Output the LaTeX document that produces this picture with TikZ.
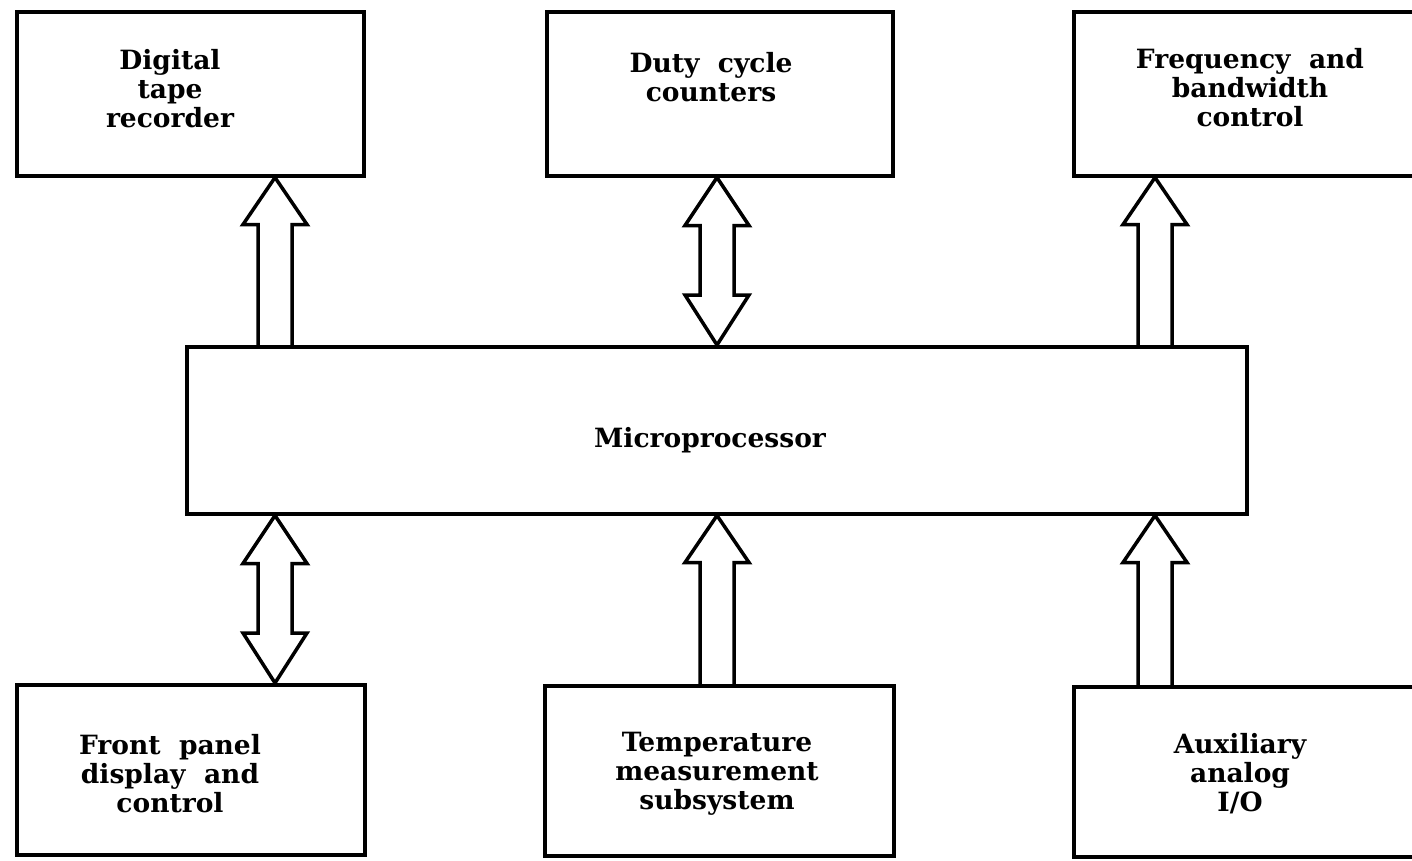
\documentclass[tikz,border=0pt]{standalone}
\usepackage{fontspec}
\setmainfont{DejaVu Serif}
\usetikzlibrary{calc}
\tikzset{
  box/.style={draw, line width=3.5pt, inner sep=0pt, anchor=north west},
  lbl/.style={font=\bfseries\fontsize{26.5}{29}\selectfont, align=center, inner sep=0pt},
  blk/.style={draw, line width=3.5pt, line join=miter},
}
\newcommand\upblk[2]{%
  \draw[blk] let \p1=(#1), \p2=(#2) in
    (\x1-17pt,\y1) -- (\x1-17pt,\y2-47pt) -- (\x1-32pt,\y2-47pt) -- (\x2,\y2)
    -- (\x1+32pt,\y2-47pt) -- (\x1+17pt,\y2-47pt) -- (\x1+17pt,\y1);}
\newcommand\dblblk[2]{%
  \draw[blk] let \p1=(#1), \p2=(#2) in
    (\x1,\y1) -- (\x1+32pt,\y1-48pt) -- (\x1+17pt,\y1-48pt) -- (\x1+17pt,\y2+50pt)
    -- (\x1+32pt,\y2+50pt) -- (\x2,\y2) -- (\x1-32pt,\y2+50pt) -- (\x1-17pt,\y2+50pt)
    -- (\x1-17pt,\y1-48pt) -- (\x1-32pt,\y1-48pt) -- cycle;}
\begin{document}
\begin{tikzpicture}[x=1pt,y=-1pt]
\useasboundingbox (0,0) rectangle (1412,860);
\clip (0,0) rectangle (1412,860);
% boxes
\node[box, minimum width=347pt, minimum height=164pt] (dtr) at (15,10) {};
\node[box, minimum width=346pt, minimum height=164pt] (duty) at (545,10) {};
\node[box, minimum width=350pt, minimum height=164pt] (freq) at (1072,10) {};
\node[box, minimum width=1060pt, minimum height=167pt] (micro) at (185,345) {};
\node[box, minimum width=348pt, minimum height=170pt] (fpd) at (15,683) {};
\node[box, minimum width=349pt, minimum height=170pt] (temp) at (543,684) {};
\node[box, minimum width=350pt, minimum height=170pt] (aux) at (1072,685) {};
% labels
\node[lbl] (dtr-t) at (170,89) {Digital\\tape\\recorder};
\node[lbl] (duty-t) at (711,77) {Duty\ \ cycle\\counters};
\node[lbl] (freq-t) at (1250,88) {Frequency\ \ and\\bandwidth\\control};
\node[lbl] (micro-t) at (710,440) {Microprocessor};
\node[lbl] (fpd-t) at (170,774) {Front\ \ panel\\display\ \ and\\control};
\node[lbl] (temp-t) at (717,774) {Temperature\\measurement\\subsystem};
\node[lbl] (aux-t) at (1240,774) {Auxiliary\\analog\\I/O};
% arrow axes
\coordinate (c1) at (275,0);
\coordinate (c2) at (717,0);
\coordinate (c3) at (1155,0);
% arrows
\upblk{micro.north -| c1}{dtr.south -| c1}
\dblblk{duty.south -| c2}{micro.north -| c2}
\upblk{micro.north -| c3}{freq.south -| c3}
\dblblk{micro.south -| c1}{fpd.north -| c1}
\upblk{temp.north -| c2}{micro.south -| c2}
\upblk{aux.north -| c3}{micro.south -| c3}
\end{tikzpicture}
\end{document}
